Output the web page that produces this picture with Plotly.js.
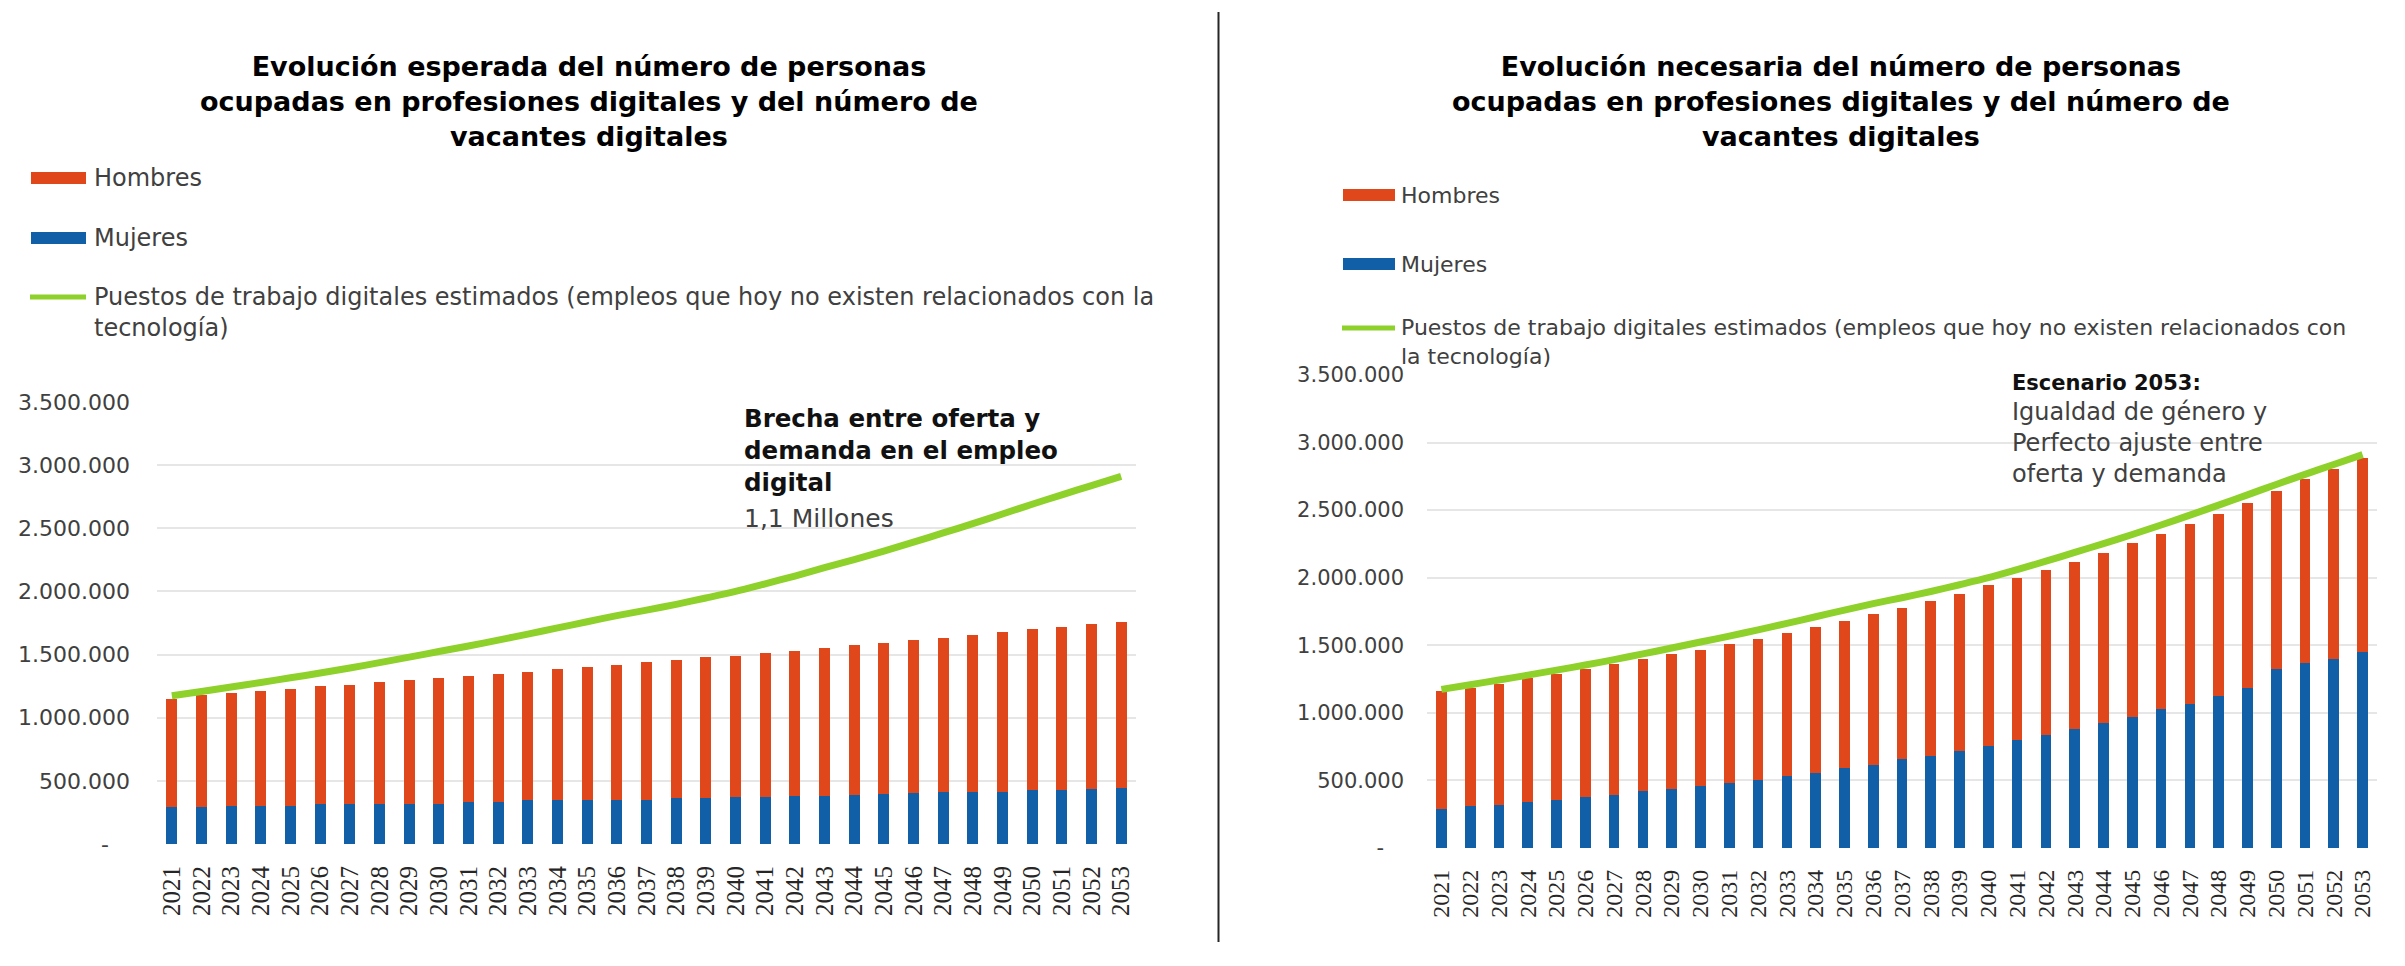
<!DOCTYPE html>
<html>
<head>
<meta charset="utf-8">
<script src="https://cdn.plot.ly/plotly-3.0.1.min.js"></script>
<style>
  html, body { margin: 0; padding: 0; background: #ffffff; }
  #chart { width: 2405px; height: 966px; }
</style>
</head>
<body>
<div id="chart"></div>
<script>
// ---------- DATA ----------
const years = ['2021','2022','2023','2024','2025','2026','2027','2028','2029','2030','2031',
  '2032','2033','2034','2035','2036','2037','2038','2039','2040','2041','2042',
  '2043','2044','2045','2046','2047','2048','2049','2050','2051','2052','2053'];

// Left chart: expected evolution
const mujeresEsperada = [291000,291000,304000,304000,304000,318000,318000,318000,318000,318000,331000,
  331000,349000,349000,352000,352000,352000,362000,362000,376000,376000,381000,
  381000,392000,397000,407000,410000,413000,415000,429000,429000,437000,442000];
const hombresEsperada = [857000,887000,892000,911000,926000,931000,944000,963000,984000,994000,1003000,
  1013000,1016000,1037000,1048000,1064000,1088000,1093000,1117000,1116000,1137000,1151000,
  1172000,1182000,1196000,1212000,1223000,1241000,1263000,1270000,1291000,1304000,1318000];

// Right chart: necessary evolution
const mujeresNecesaria = [291000,309000,321000,341000,358000,375000,395000,420000,437000,462000,481000,
  506000,531000,556000,593000,617000,656000,684000,716000,758000,797000,835000,
  877000,926000,968000,1025000,1069000,1128000,1185000,1326000,1370000,1400000,1449000];
const hombresNecesaria = [869000,876000,889000,918000,931000,951000,970000,975000,995000,1002000,1030000,
  1042000,1057000,1078000,1086000,1111000,1122000,1143000,1165000,1185000,1198000,1222000,
  1241000,1254000,1286000,1298000,1326000,1346000,1365000,1316000,1358000,1407000,1440000];

// Estimated digital jobs (same series in both charts)
const puestosDigitales = [1174000,1208000,1243000,1279000,1316000,1354000,1394000,1436000,1480000,1524000,1568000,
  1614000,1662000,1711000,1760000,1808000,1852000,1898000,1948000,2000000,2060000,2122000,
  2188000,2252000,2320000,2390000,2463000,2537000,2613000,2690000,2765000,2838000,2911000];

const yTickVals = [0,500000,1000000,1500000,2000000,2500000,3000000,3500000];
const yTickText = ['-\u00a0\u00a0\u00a0','500.000','1.000.000','1.500.000','2.000.000','2.500.000','3.000.000','3.500.000'];

const nameHombres = 'Hombres';
const nameMujeres = 'Mujeres';
const namePuestos = 'Puestos de trabajo digitales estimados (empleos que hoy no existen relacionados con la tecnología)';

// ---------- STYLE ----------
const W = 2405, H = 966;
const px = x => x / W;
const py = y => 1 - y / H;
const C_H = '#E0481C', C_M = '#115FA6', C_L = '#8ED12B';
const SANS = 'DejaVu Sans';
const SERIF = 'Liberation Serif';

const traces = [
  {type:'bar', x: years, y: mujeresEsperada, name: nameMujeres, marker:{color:C_M}, xaxis:'x', yaxis:'y', showlegend:false, hoverinfo:'skip'},
  {type:'bar', x: years, y: hombresEsperada, name: nameHombres, marker:{color:C_H}, xaxis:'x', yaxis:'y', showlegend:false, hoverinfo:'skip'},
  {type:'scatter', mode:'lines', x: years, y: puestosDigitales, name: namePuestos, line:{color:C_L, width:7, shape:'spline', smoothing:0.8}, xaxis:'x', yaxis:'y', showlegend:false, hoverinfo:'skip'},
  {type:'bar', x: years, y: mujeresNecesaria, name: nameMujeres, marker:{color:C_M}, xaxis:'x2', yaxis:'y2', showlegend:false, hoverinfo:'skip'},
  {type:'bar', x: years, y: hombresNecesaria, name: nameHombres, marker:{color:C_H}, xaxis:'x2', yaxis:'y2', showlegend:false, hoverinfo:'skip'},
  {type:'scatter', mode:'lines', x: years, y: puestosDigitales, name: namePuestos, line:{color:C_L, width:7, shape:'spline', smoothing:0.8}, xaxis:'x2', yaxis:'y2', showlegend:false, hoverinfo:'skip'}
];

function xAxis(domain, anchor, size, standoff) {
  return {domain: domain, anchor: anchor, type:'category', tickangle:-90,
    tickmode:'array', tickvals: years, ticktext: years,
    tickfont:{family:SERIF, size:size, color:'#262626'}, showgrid:false, showline:false,
    zeroline:false, ticks:'', ticklabelstandoff: standoff, automargin:false, fixedrange:true};
}
function yAxis(domain, anchor, size, standoff) {
  return {domain: domain, anchor: anchor, range:[0,3500000], tickmode:'array',
    tickvals: yTickVals, ticktext: yTickText,
    tickfont:{family:SANS, size:size, color:'#404040'}, showgrid:true, gridcolor:'#E6E6E6', gridwidth:2,
    zeroline:false, showline:false, ticks:'', ticklabelstandoff: standoff, automargin:false, fixedrange:true};
}

const titleFont = {family:SANS, size:27, color:'#000000', weight:700};
const annotations = [
  // chart titles
  {text:'Evolución esperada del número de personas<br>ocupadas en profesiones digitales y del número de<br>vacantes digitales',
   xref:'paper', yref:'paper', x:px(589), y:py(102), xanchor:'center', yanchor:'middle', showarrow:false, font:titleFont, align:'center'},
  {text:'Evolución necesaria del número de personas<br>ocupadas en profesiones digitales y del número de<br>vacantes digitales',
   xref:'paper', yref:'paper', x:px(1841), y:py(102), xanchor:'center', yanchor:'middle', showarrow:false, font:titleFont, align:'center'},
  // left legend texts
  {text:nameHombres, xref:'paper', yref:'paper', x:px(92), y:py(178), xanchor:'left', yanchor:'middle', showarrow:false, font:{family:SANS, size:24, color:'#404040'}},
  {text:nameMujeres, xref:'paper', yref:'paper', x:px(92), y:py(238), xanchor:'left', yanchor:'middle', showarrow:false, font:{family:SANS, size:24, color:'#404040'}},
  {text:'Puestos de trabajo digitales estimados (empleos que hoy no existen relacionados con la<br>tecnología)',
   xref:'paper', yref:'paper', x:px(92), y:py(312.5), xanchor:'left', yanchor:'middle', showarrow:false, align:'left', font:{family:SANS, size:24, color:'#404040'}},
  // right legend texts
  {text:nameHombres, xref:'paper', yref:'paper', x:px(1399), y:py(195), xanchor:'left', yanchor:'middle', showarrow:false, font:{family:SANS, size:22, color:'#404040'}},
  {text:nameMujeres, xref:'paper', yref:'paper', x:px(1399), y:py(264), xanchor:'left', yanchor:'middle', showarrow:false, font:{family:SANS, size:22, color:'#404040'}},
  {text:'Puestos de trabajo digitales estimados (empleos que hoy no existen relacionados con<br>la tecnología)',
   xref:'paper', yref:'paper', x:px(1399), y:py(342), xanchor:'left', yanchor:'middle', showarrow:false, align:'left', font:{family:SANS, size:22, color:'#404040'}},
  // left note
  {text:'Brecha entre oferta y<br>demanda en el empleo<br>digital', xref:'paper', yref:'paper', x:px(742), y:py(450),
   xanchor:'left', yanchor:'middle', showarrow:false, align:'left', font:{family:SANS, size:24.5, color:'#111111', weight:700}},
  {text:'1,1 Millones', xref:'paper', yref:'paper', x:px(742), y:py(518), xanchor:'left', yanchor:'middle', showarrow:false,
   font:{family:SANS, size:25, color:'#404040'}},
  // right note
  {text:'Escenario 2053:', xref:'paper', yref:'paper', x:px(2010), y:py(383), xanchor:'left', yanchor:'middle', showarrow:false,
   font:{family:SANS, size:21, color:'#111111', weight:700}},
  {text:'Igualdad de género y<br>Perfecto ajuste entre<br>oferta y demanda', xref:'paper', yref:'paper', x:px(2010), y:py(442.5),
   xanchor:'left', yanchor:'middle', showarrow:false, align:'left', font:{family:SANS, size:24, color:'#404040'}}
];

const shapes = [
  // separator
  {type:'line', xref:'paper', yref:'paper', x0:px(1218.5), x1:px(1218.5), y0:py(12), y1:py(942), line:{color:'#262626', width:2}},
  // left legend swatches
  {type:'rect', xref:'paper', yref:'paper', x0:px(31), x1:px(86), y0:py(184), y1:py(172), fillcolor:C_H, line:{width:0}},
  {type:'rect', xref:'paper', yref:'paper', x0:px(31), x1:px(86), y0:py(244), y1:py(232), fillcolor:C_M, line:{width:0}},
  {type:'line', xref:'paper', yref:'paper', x0:px(30), x1:px(86), y0:py(297), y1:py(297), line:{color:C_L, width:5}},
  // right legend swatches
  {type:'rect', xref:'paper', yref:'paper', x0:px(1343), x1:px(1395), y0:py(201), y1:py(189), fillcolor:C_H, line:{width:0}},
  {type:'rect', xref:'paper', yref:'paper', x0:px(1343), x1:px(1395), y0:py(270), y1:py(258), fillcolor:C_M, line:{width:0}},
  {type:'line', xref:'paper', yref:'paper', x0:px(1342), x1:px(1395), y0:py(328), y1:py(328), line:{color:C_L, width:5}}
];

const layout = {
  width: W, height: H,
  margin:{l:0, r:0, t:0, b:0, pad:0},
  paper_bgcolor:'#ffffff', plot_bgcolor:'#ffffff',
  barmode:'stack', bargap:0.63,
  showlegend:false,
  font:{family:SANS, color:'#404040'},
  xaxis: xAxis([px(157), px(1136)], 'y', 25, 16),
  yaxis: yAxis([py(844), py(402)], 'x', 22, 26),
  xaxis2: xAxis([px(1427), px(2377)], 'y2', 24, 16),
  yaxis2: yAxis([py(848), py(375)], 'x2', 21, 22),
  annotations: annotations,
  shapes: shapes
};

Plotly.newPlot('chart', traces, layout, {displayModeBar:false, staticPlot:true});
</script>
</body>
</html>
